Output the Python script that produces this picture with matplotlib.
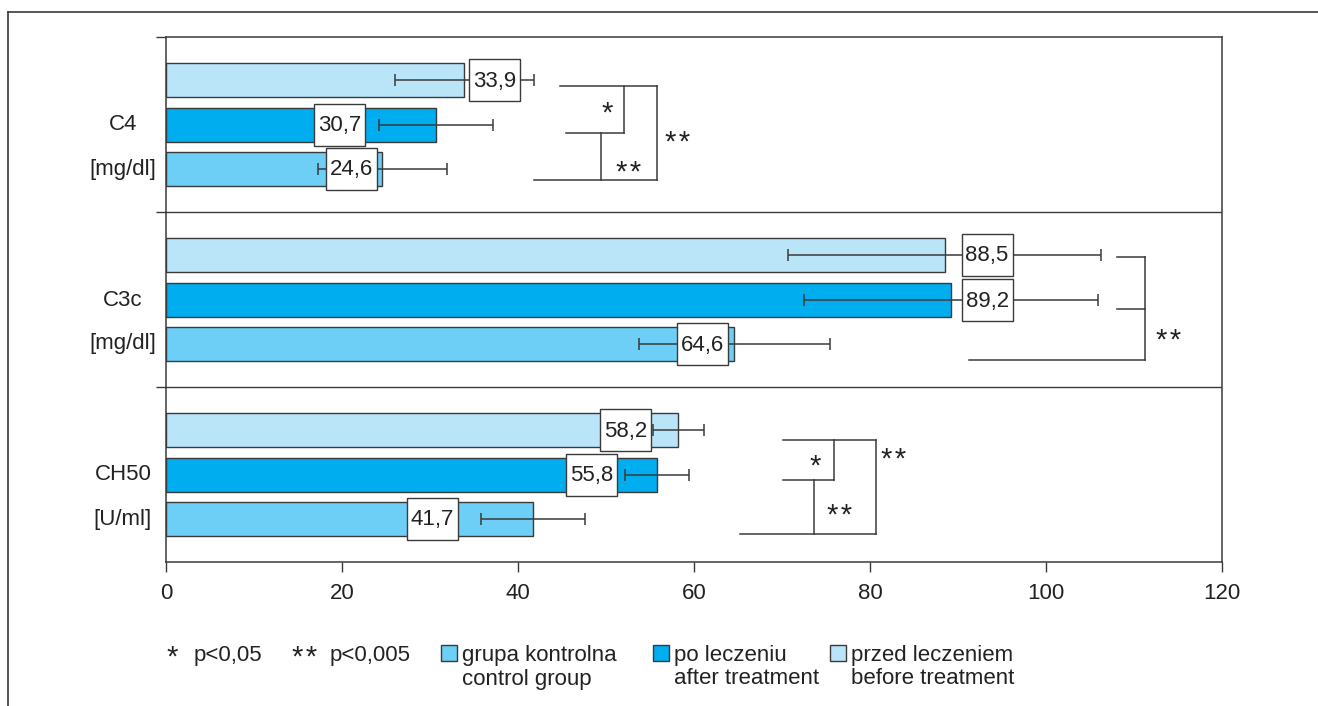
import numpy as np
import matplotlib.pyplot as plt
from matplotlib.patches import Rectangle
from matplotlib.lines import Line2D

plt.rcParams['font.family'] = ['Liberation Sans', 'DejaVu Sans']

groups = ['C4', 'C3c', 'CH50']
units = ['[mg/dl]', '[mg/dl]', '[U/ml]']
before = [33.9, 88.5, 58.2]
after = [30.7, 89.2, 55.8]
control = [24.6, 64.6, 41.7]
sd_before = [7.9, 17.8, 2.9]
sd_after = [6.5, 16.7, 3.6]
sd_control = [7.3, 10.9, 5.9]
xticks = [0, 20, 40, 60, 80, 100, 120]

c_before = '#bae5f9'
c_after = '#00adee'
c_control = '#6dcff6'
dark = '#3a3a3a'
tcol = '#222222'
fs = 16

# where the value boxes sit (x centre, data units)
lab_before = [37.3, 93.3, 52.2]
lab_after = [19.7, 93.4, 48.4]
lab_control = [21.1, 61.0, 30.3]

sec = 175  # height of one group section
offs = [43, 88, 132]  # bar centres within a section
bar_h = 34

fig = plt.figure(figsize=(13.18, 7.06), dpi=100)
ax = fig.add_axes([166 / 1318, 1 - 562 / 706, (1222 - 166) / 1318, 525 / 706])
ax.set_xlim(0, 120)
ax.set_ylim(525, 0)

series = [(before, sd_before, c_before, lab_before),
          (after, sd_after, c_after, lab_after),
          (control, sd_control, c_control, lab_control)]

for g in range(3):
    for k, (vals, sds, col, labx) in enumerate(series):
        y = g * sec + offs[k]
        ax.barh(y, vals[g], height=bar_h, color=col, edgecolor=dark, lw=1.0, zorder=2)
        ax.errorbar(vals[g], y, xerr=sds[g], fmt='none', ecolor=dark, elinewidth=1.1,
                    capsize=4, capthick=1.1, zorder=3)
        txt = f'{vals[g]:.1f}'.replace('.', ',')
        ax.add_patch(Rectangle((labx[g] - 2.9, y - 21), 5.8, 42, facecolor='white',
                               edgecolor=dark, lw=1.0, zorder=4))
        ax.text(labx[g], y + 1, txt, ha='center', va='center', fontsize=fs,
                color=tcol, zorder=5)
    ax.text(-4.9, g * sec + offs[1], groups[g], ha='center', va='center',
            fontsize=fs, color=tcol, clip_on=False)
    ax.text(-4.9, g * sec + offs[2], units[g], ha='center', va='center',
            fontsize=fs, color=tcol, clip_on=False)

# significance brackets
brackets = [
    [[(44.8, 49), (55.8, 49)], [(52.0, 49), (52.0, 96)], [(45.5, 96), (52.0, 96)],
     [(49.4, 96), (49.4, 143)], [(41.8, 143), (55.8, 143)], [(55.8, 49), (55.8, 143)]],
    [[(108.1, 45), (111.25, 45)], [(108.1, 97), (111.25, 97)],
     [(111.25, 45), (111.25, 148)], [(91.25, 148), (111.25, 148)]],
    [[(70.1, 53), (80.7, 53)], [(75.9, 53), (75.9, 93)], [(70.1, 93), (75.9, 93)],
     [(73.6, 93), (73.6, 147)], [(65.2, 147), (80.7, 147)], [(80.7, 53), (80.7, 147)]],
]
one, two = '*', '*\u200a*'
stars = [
    [(one, 50.1, 72), (two, 52.6, 131), (two, 58.1, 101)],
    [(two, 113.9, 124)],
    [(one, 73.75, 75), (two, 76.5, 124), (two, 82.7, 68)],
]
star_fs = 21
star_drop = 13  # asterisk sits high in the glyph box; move baseline down
for g in range(3):
    for (x0, y0), (x1, y1) in brackets[g]:
        ax.plot([x0, x1], [g * sec + y0, g * sec + y1], color=dark, lw=1.1,
                clip_on=False, zorder=3)
    for s, x, y in stars[g]:
        ax.text(x, g * sec + y + star_drop, s, ha='center', va='baseline',
                fontsize=star_fs, color=tcol, clip_on=False)

for yy in (sec, 2 * sec):
    ax.axhline(yy, color=dark, lw=1.0, zorder=1)

for sp in ax.spines.values():
    sp.set_color(dark)
    sp.set_linewidth(1.1)

ax.set_xticks(xticks)
ax.set_xticklabels([str(t) for t in xticks], fontsize=fs, color=tcol)
ax.tick_params(axis='x', length=7, width=1.0, color=dark, pad=8)
ax.set_yticks([0, sec, 2 * sec])
ax.set_yticklabels([])
ax.tick_params(axis='y', length=7, width=1.0, color=dark)

# outer frame
fig.add_artist(Line2D([8 / 1318, 8 / 1318], [0, 1 - 12 / 706], color=dark, lw=1.2))
fig.add_artist(Line2D([8 / 1318, 1], [1 - 12 / 706, 1 - 12 / 706], color=dark, lw=1.2))

# legend
def fx(px):
    return px / 1318

def fy(py):
    return 1 - py / 706

fig.text(fx(172), fy(653 + star_drop), one, ha='center', va='baseline', fontsize=star_fs, color=tcol)
fig.text(fx(194), fy(655), 'p<0,05', ha='left', va='center', fontsize=fs, color=tcol)
fig.text(fx(305), fy(653 + star_drop), two, ha='center', va='baseline', fontsize=star_fs, color=tcol)
fig.text(fx(330), fy(655), 'p<0,005', ha='left', va='center', fontsize=fs, color=tcol)

leg = [(441, c_control, 'grupa kontrolna', 'control group'),
       (653, c_after, 'po leczeniu', 'after treatment'),
       (830, c_before, 'przed leczeniem', 'before treatment')]
for px, col, l1, l2 in leg:
    fig.add_artist(Rectangle((fx(px), fy(661)), 16 / 1318, 16 / 706, facecolor=col,
                             edgecolor=dark, lw=1.0, transform=fig.transFigure))
    fig.text(fx(px + 21), fy(655), l1, ha='left', va='center', fontsize=fs, color=tcol)
    fig.text(fx(px + 21), fy(679), l2, ha='left', va='center', fontsize=fs, color=tcol)

fig.savefig('out.png', dpi=100)
